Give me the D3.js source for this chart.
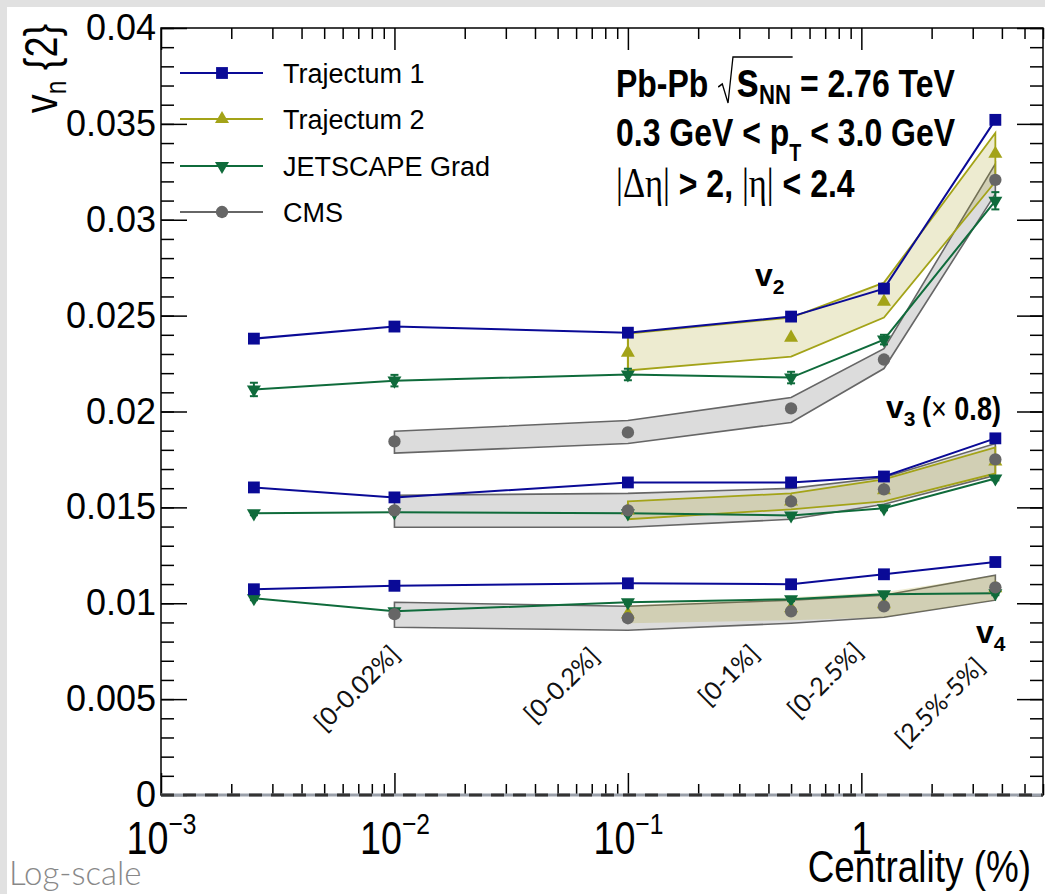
<!DOCTYPE html>
<html>
<head>
<meta charset="utf-8">
<script src="https://cdn.jsdelivr.net/npm/d3@7"></script>
<style>
  html, body { margin: 0; padding: 0; background: #e1e1e1; }
  svg { display: block; }
</style>
</head>
<body>
<svg id="chart" width="1045" height="894"></svg>
<script>
// DATA  (v3 values are shown already scaled by 0.8)

const centrality    = [0.0025, 0.01, 0.1, 0.5, 1.25, 3.75];
const centralityT2  = [0.1, 0.5, 1.25, 3.75];
const centralityCMS = [0.01, 0.1, 0.5, 1.25, 3.75];

// Trajectum 1
const traj1V2 = [0.0238, 0.02443, 0.02411, 0.02495, 0.02641, 0.03521];
const traj1V3 = [0.01604, 0.01552, 0.0163, 0.0163, 0.01661, 0.0186];
const traj1V4 = [0.01073, 0.01091, 0.01104, 0.01099, 0.01151, 0.01215];
const traj1V2Err = [0.00025, 0.0001, 0.0001, 0.0001, 0.0001, 0.0001];
const traj1V3Err = [0.0001, 0.0001, 0.0001, 0.0001, 0.0001, 0.0001];
const traj1V4Err = [0.0002, 0.0001, 0.0001, 0.0001, 0.0001, 0.0001];

// Trajectum 2 (central value + band)
const traj2V2   = [0.02307, 0.02385, 0.02573, 0.03344];
const traj2V2Lo = [0.02214, 0.02286, 0.0249, 0.03198];
const traj2V2Hi = [0.02406, 0.0249, 0.02672, 0.03453];
const traj2V2Err = [0.00095, 0, 0, 0];
const traj2V3   = [0.01484, 0.01531, 0.01589, 0.0174];
const traj2V3Lo = [0.01438, 0.0149, 0.01531, 0.01677];
const traj2V3Hi = [0.01531, 0.01573, 0.01646, 0.01813];
const traj2V3Err = [0, 0, 0, 0];
const traj2V4   = [0.00943, 0.00974, 0.00995, 0.01078];
const traj2V4Lo = [0.00896, 0.00911, 0.00927, 0.01016];
const traj2V4Hi = [0.0099, 0.01031, 0.01057, 0.01146];
const traj2V4Err = [0.0005, 0, 0, 0];

// JETSCAPE Grad
const jetV2 = [0.02115, 0.02161, 0.02193, 0.02177, 0.02375, 0.03099];
const jetV3 = [0.01469, 0.01474, 0.01469, 0.01458, 0.01495, 0.01651];
const jetV4 = [0.01026, 0.00958, 0.01005, 0.01021, 0.01047, 0.01052];
const jetV2Err = [0.00035, 0.0003, 0.0003, 0.0003, 0.00025, 0.00045];
const jetV3Err = [0.0001, 0.0001, 0.0001, 0.0001, 0.0001, 0.0001];
const jetV4Err = [0.0001, 0.0001, 0.0001, 0.0001, 0.0001, 0.0001];

// CMS (value + systematic band)
const cmsV2   = [0.01844, 0.01891, 0.02016, 0.02271, 0.03208];
const cmsV2Lo = [0.01783, 0.01833, 0.01943, 0.02224, 0.03135];
const cmsV2Hi = [0.01897, 0.01953, 0.02073, 0.02328, 0.03292];
const cmsV3   = [0.01484, 0.01484, 0.01531, 0.01594, 0.0175];
const cmsV3Lo = [0.01397, 0.01396, 0.01438, 0.01516, 0.01667];
const cmsV3Hi = [0.01563, 0.01573, 0.01599, 0.01656, 0.01833];
const cmsV4   = [0.00943, 0.00922, 0.00958, 0.00984, 0.01083];
const cmsV4Lo = [0.00875, 0.00859, 0.00896, 0.00927, 0.01016];
const cmsV4Hi = [0.01005, 0.00984, 0.01016, 0.01042, 0.01146];

// axis ticks and labels
const yTicks      = [0, 0.005, 0.01, 0.015, 0.02, 0.025, 0.03, 0.035, 0.04];
const yTickLabels = ["0", "0.005", "0.01", "0.015", "0.02", "0.025", "0.03", "0.035", "0.04"];
const xTicks      = [0.001, 0.01, 0.1, 1];
const xTickLabels = [["10", "\u22123"], ["10", "\u22122"], ["10", "\u22121"], ["1", ""]];

const seriesNames = ["Trajectum 1", "Trajectum 2", "JETSCAPE Grad", "CMS"];
const binLabels   = ["[0-0.02%]", "[0-0.2%]", "[0-1%]", "[0-2.5%]", "[2.5%-5%]"];

// STYLE / LAYOUT
const blue = "#0a0a96", olive = "#a3a318", green = "#0f6b3b", grey = "#666666";
const seriesColors = [blue, olive, green, grey];
const narrow = 0.82;   // horizontal squeeze to mimic the condensed ROOT font

const W = 1045, H = 894;
const margin = { top: 28, left: 161 };
const pw = 1043 - margin.left, ph = 795 - margin.top;

const svg = d3.select("#chart");
svg.append("rect").attr("x", 7).attr("y", 7).attr("width", W - 7).attr("height", H - 7).attr("fill", "#fff");

const x = d3.scaleLog().domain([0.001, 6]).range([0, pw]);
const y = d3.scaleLinear().domain([0, 0.04]).range([ph, 0]);

const g = svg.append("g").attr("transform", "translate(" + margin.left + "," + margin.top + ")");

// AXES
function styleAxis(sel) {
    sel.select(".domain").remove();
    sel.selectAll(".tick line").attr("stroke", "#000").attr("stroke-width", 1.5);
}
g.append("g")
    .call(d3.axisLeft(y).tickValues(y.ticks(40)).tickSize(-13).tickFormat(""))
    .call(styleAxis);
const yAxisG = g.append("g")
    .call(d3.axisLeft(y).tickValues(yTicks).tickSizeInner(-26).tickSizeOuter(0).tickPadding(5)
        .tickFormat((d, i) => yTickLabels[i]))
    .call(styleAxis);
yAxisG.selectAll(".tick text")
    .attr("font-family", "'Liberation Sans', Arial, sans-serif")
    .attr("font-size", 36).attr("fill", "#000");

g.append("g").attr("transform", "translate(" + pw + ",0)")
    .call(d3.axisRight(y).tickValues(y.ticks(40)).tickSize(-13).tickFormat(""))
    .call(styleAxis);
g.append("g").attr("transform", "translate(" + pw + ",0)")
    .call(d3.axisRight(y).tickValues(yTicks).tickSize(-26).tickFormat(""))
    .call(styleAxis);

const xMinor = x.ticks().filter(d => xTicks.indexOf(d) < 0);
g.append("g").attr("transform", "translate(0," + ph + ")")
    .call(d3.axisBottom(x).tickValues(xMinor).tickSize(-11).tickFormat(""))
    .call(styleAxis);
const xAxisG = g.append("g").attr("transform", "translate(0," + ph + ")")
    .call(d3.axisBottom(x).tickValues(xTicks).tickSizeInner(-22).tickSizeOuter(0).tickFormat(""))
    .call(styleAxis);
xAxisG.selectAll(".tick text").each(function (d, i) {
    const t = d3.select(this).attr("y", null).attr("dy", null)
        .attr("transform", "translate(0,59) scale(" + narrow + ",1)")
        .attr("font-family", "'Liberation Sans', Arial, sans-serif")
        .attr("font-size", 46).attr("fill", "#000").attr("text-anchor", "middle");
    t.append("tspan").text(xTickLabels[i][0]);
    if (xTickLabels[i][1]) t.append("tspan").attr("dy", -20).attr("font-size", 30).text(xTickLabels[i][1]);
});
g.append("g")
    .call(d3.axisTop(x).tickValues(xMinor).tickSize(-11).tickFormat(""))
    .call(styleAxis);
g.append("g")
    .call(d3.axisTop(x).tickValues(xTicks).tickSize(-22).tickFormat(""))
    .call(styleAxis);

// SERIES
const harmonics = [
    { t1: traj1V2, t1e: traj1V2Err, t2: traj2V2, t2lo: traj2V2Lo, t2hi: traj2V2Hi, t2e: traj2V2Err,
      jet: jetV2, jete: jetV2Err, cms: cmsV2, cmslo: cmsV2Lo, cmshi: cmsV2Hi, t2stroke: olive },
    { t1: traj1V3, t1e: traj1V3Err, t2: traj2V3, t2lo: traj2V3Lo, t2hi: traj2V3Hi, t2e: traj2V3Err,
      jet: jetV3, jete: jetV3Err, cms: cmsV3, cmslo: cmsV3Lo, cmshi: cmsV3Hi, t2stroke: olive },
    { t1: traj1V4, t1e: traj1V4Err, t2: traj2V4, t2lo: traj2V4Lo, t2hi: traj2V4Hi, t2e: traj2V4Err,
      jet: jetV4, jete: jetV4Err, cms: cmsV4, cmslo: cmsV4Lo, cmshi: cmsV4Hi, t2stroke: "none" }
];

const band = d3.area().x(d => x(d.c)).y0(d => y(d.lo)).y1(d => y(d.hi));
const line = d3.line().x(d => x(d.c)).y(d => y(d.v));
const sym = {
    square: d3.symbol().type(d3.symbolSquare).size(140),
    tri: d3.symbol().type(d3.symbolTriangle).size(85),
    circle: d3.symbol().type(d3.symbolCircle).size(120)
};

const bandsG = g.append("g"), linesG = g.append("g"), errG = g.append("g"), markG = g.append("g");

function pts(cs, vs, es, lo, hi) {
    return cs.map((c, i) => ({ c: c, v: vs[i], e: es ? es[i] : 0, lo: lo ? lo[i] : 0, hi: hi ? hi[i] : 0 }));
}

function errorBars(data, color, cap) {
    data.filter(d => d.e > 0).forEach(d => {
        errG.append("line").attr("x1", x(d.c)).attr("x2", x(d.c))
            .attr("y1", y(d.v - d.e)).attr("y2", y(d.v + d.e))
            .attr("stroke", color).attr("stroke-width", 2);
        if (cap) {
            [d.v - d.e, d.v + d.e].forEach(v => errG.append("line")
                .attr("x1", x(d.c) - cap).attr("x2", x(d.c) + cap)
                .attr("y1", y(v)).attr("y2", y(v)).attr("stroke", color).attr("stroke-width", 2));
        }
    });
}

function markers(data, shape, color, rot) {
    markG.selectAll(null).data(data).enter().append("path")
        .attr("d", sym[shape])
        .attr("transform", d => "translate(" + x(d.c) + "," + y(d.v) + ")" + (rot ? " rotate(180)" : ""))
        .attr("fill", color);
}

harmonics.forEach(h => {
    const t1 = pts(centrality, h.t1, h.t1e);
    const t2 = pts(centralityT2, h.t2, h.t2e, h.t2lo, h.t2hi);
    const jet = pts(centrality, h.jet, h.jete);
    const cms = pts(centralityCMS, h.cms, null, h.cmslo, h.cmshi);

    bandsG.append("path").datum(cms).attr("d", band)
        .attr("fill", "#dcdcdc").attr("stroke", grey).attr("stroke-width", 1.6);
    bandsG.append("path").datum(t2).attr("d", band)
        .attr("fill", "rgba(165,155,20,0.2)").attr("stroke", h.t2stroke).attr("stroke-width", 1.8);

    linesG.append("path").datum(t1).attr("d", line).attr("fill", "none").attr("stroke", blue).attr("stroke-width", 2);
    linesG.append("path").datum(jet).attr("d", line).attr("fill", "none").attr("stroke", green).attr("stroke-width", 2);

    errorBars(t1, blue, 0);
    errorBars(t2, olive, 0);
    errorBars(jet, green, 4);

    markers(t2, "tri", olive, false);
    markers(jet, "tri", green, true);
    markers(cms, "circle", grey, false);
    markers(t1, "square", blue, false);
});

// FRAME
g.append("rect").attr("width", pw).attr("height", ph)
    .attr("fill", "none").attr("stroke", "#000").attr("stroke-width", 1.5);
g.append("line").attr("x1", 0).attr("x2", pw).attr("y1", y(0)).attr("y2", y(0))
    .attr("stroke", "#9aa0aa").attr("stroke-width", 3);
g.append("line").attr("x1", 0).attr("x2", pw).attr("y1", y(0)).attr("y2", y(0))
    .attr("stroke", "#333").attr("stroke-width", 3).attr("stroke-dasharray", "13,9");

// TEXT HELPERS
const sans = "'Liberation Sans', Arial, sans-serif";
const serif = "'Liberation Serif', 'Times New Roman', serif";

function richText(px, py, parts, opts) {
    opts = opts || {};
    const grp = svg.append("g").attr("transform",
        "translate(" + px + "," + py + ")" + (opts.rotate ? " rotate(" + opts.rotate + ")" : "") +
        " scale(" + (opts.sx || 1) + ",1)");
    const t = grp.append("text").attr("font-family", sans).attr("fill", "#000")
        .attr("text-anchor", opts.anchor || "start");
    parts.forEach(p => {
        t.append("tspan").text(p.t)
            .attr("font-size", p.size).attr("font-weight", p.bold ? "bold" : "normal")
            .attr("font-family", p.family || sans)
            .attr("dy", p.dy || 0).attr("dx", p.dx || 0);
    });
    return { grp: grp, text: t };
}

// axis titles
richText(57, 24, [{ t: "v", size: 46 }, { t: "n", size: 30, dy: 9 }, { t: " {2}", size: 46, dy: -9 }],
    { rotate: -90, sx: narrow, anchor: "end" });
richText(1031, 882, [{ t: "Centrality (%)", size: 45 }], { sx: narrow, anchor: "end" });

// LEGEND
const legendY = [73, 119, 166, 212];
seriesNames.forEach((name, i) => {
    const ly = legendY[i];
    svg.append("line").attr("x1", 180).attr("x2", 263).attr("y1", ly).attr("y2", ly)
        .attr("stroke", seriesColors[i]).attr("stroke-width", 2);
    const shape = ["square", "tri", "tri", "circle"][i];
    svg.append("path").attr("d", sym[shape])
        .attr("transform", "translate(222," + ly + ")" + (i === 2 ? " rotate(180)" : ""))
        .attr("fill", seriesColors[i]);
    svg.append("text").attr("x", 283).attr("y", ly + 10)
        .attr("font-family", sans).attr("font-size", 27).text(name);
});

// HEADER
const h1 = richText(616, 97, [
    { t: "Pb-Pb", size: 39, bold: true },
    { t: "s", size: 50, bold: true, dx: 34 },
    { t: "NN", size: 27, bold: true, dy: 7 },
    { t: " = 2.76 TeV", size: 39, bold: true, dy: -7 }
], { sx: narrow });
{
    const node = h1.text.node();
    const sx0 = node.getExtentOfChar(5).x;
    const nnEnd = node.getExtentOfChar(7);
    const top = -40;
    h1.grp.append("path")
        .attr("d", "M" + (sx0 - 22) + ",-10 L" + (sx0 - 17) + ",-13 L" + (sx0 - 10) + ",6 L" + (sx0 - 4) + "," + top +
            " L" + (nnEnd.x + nnEnd.width + 2) + "," + top)
        .attr("fill", "none").attr("stroke", "#000").attr("stroke-width", 1.6);
}
richText(616, 146, [
    { t: "0.3 GeV < p", size: 39, bold: true },
    { t: "T", size: 24, bold: true, dy: 15 },
    { t: " < 3.0 GeV", size: 39, bold: true, dy: -15 }
], { sx: narrow });
richText(616, 197, [
    { t: "|\u0394\u03b7|", size: 42, family: serif },
    { t: " > 2, ", size: 39, bold: true },
    { t: "|\u03b7|", size: 42, family: serif },
    { t: " < 2.4", size: 39, bold: true }
], { sx: narrow });

// harmonic labels
richText(755, 286, [{ t: "v", size: 32, bold: true }, { t: "2", size: 21, bold: true, dy: 8 }]);
richText(886, 418, [{ t: "v", size: 32, bold: true }, { t: "3", size: 21, bold: true, dy: 8 }]);
richText(922, 420, [{ t: "(", size: 33, bold: true }, { t: "\u00d7", size: 33 }, { t: " 0.8)", size: 33, bold: true }], { sx: narrow });
richText(976, 643, [{ t: "v", size: 32, bold: true }, { t: "4", size: 21, bold: true, dy: 8 }]);

// bin labels, rotated
const binLabelAt = [[0.0069, 0.00557], [0.052, 0.00573], [0.27, 0.00625], [0.70, 0.00599], [2.17, 0.00484]];
binLabels.forEach((lab, i) => {
    const px = margin.left + x(binLabelAt[i][0]), py = margin.top + y(binLabelAt[i][1]);
    svg.append("text")
        .attr("transform", "translate(" + px + "," + py + ") rotate(-45)")
        .attr("text-anchor", "middle").attr("dy", "0.35em")
        .attr("font-family", "Lato, 'Open Sans', sans-serif").attr("font-weight", 400)
        .attr("font-size", 25).attr("fill", "#111").text(lab);
});

svg.append("text").attr("x", 9).attr("y", 885)
    .attr("font-family", "Lato, 'Open Sans', sans-serif").attr("font-weight", 300)
    .attr("font-size", 33).attr("fill", "#888").text("Log-scale");
</script>
</body>
</html>
